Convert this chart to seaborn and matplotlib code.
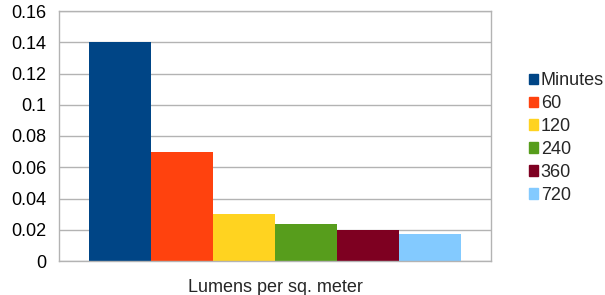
import numpy as np
import pandas as pd
import matplotlib.pyplot as plt
import seaborn as sns

category = "Lumens per sq. meter"
series = ["Minutes", "60", "120", "240", "360", "720"]
values = [0.14, 0.07, 0.03, 0.024, 0.02, 0.0175]
colors = ["#004586", "#ff420e", "#ffd320", "#579d1c", "#7e0021", "#83caff"]
yticks = [0, 0.02, 0.04, 0.06, 0.08, 0.1, 0.12, 0.14, 0.16]
ytick_labels = ["0", "0.02", "0.04", "0.06", "0.08", "0.1", "0.12", "0.14", "0.16"]

df = pd.DataFrame({"cat": [category] * len(series), "series": series, "value": values})

sns.set_style("white")
plt.rcParams['font.family'] = ['Liberation Sans', 'DejaVu Sans']

fig = plt.figure(figsize=(6.05, 2.95), dpi=100)
ax = fig.add_axes([59 / 605, 34 / 295, 432 / 605, 250 / 295])

sns.barplot(data=df, x="cat", y="value", hue="series", palette=colors,
            width=0.86, linewidth=0, saturation=1, ax=ax, legend=False)

ax.set_xlim(-0.5, 0.5)
ax.set_ylim(0, 0.16)
ax.set_yticks(yticks)
ax.set_yticklabels(ytick_labels, fontsize=13, color="#000000")
ax.yaxis.grid(True, color="#b3b3b3", linewidth=1)
ax.set_axisbelow(True)

ax.set_xticks([-0.5, 0.5])
ax.set_xticklabels(["", ""])
ax.set_xticks([0], minor=True)
ax.set_xticklabels([category], minor=True, fontsize=13)
ax.tick_params(axis="x", which="minor", length=0, pad=13)
ax.tick_params(axis="both", which="major", length=5, width=1, color="#b3b3b3", direction="out")
ax.tick_params(axis="y", pad=4)
ax.set_xlabel("")
ax.set_ylabel("")

for s in ax.spines.values():
    s.set_visible(True)
    s.set_color("#b3b3b3")
    s.set_linewidth(1)

handles = [plt.Rectangle((0, 0), 1, 1, color=c) for c in colors]
ax.legend(handles, series, loc="center left", bbox_to_anchor=(1.088, 0.492),
          frameon=False, fontsize=13, handlelength=0.5, handleheight=0.5,
          handletextpad=0.15, labelspacing=0.33, borderaxespad=0, borderpad=0)

fig.savefig("out.png", dpi=100)
